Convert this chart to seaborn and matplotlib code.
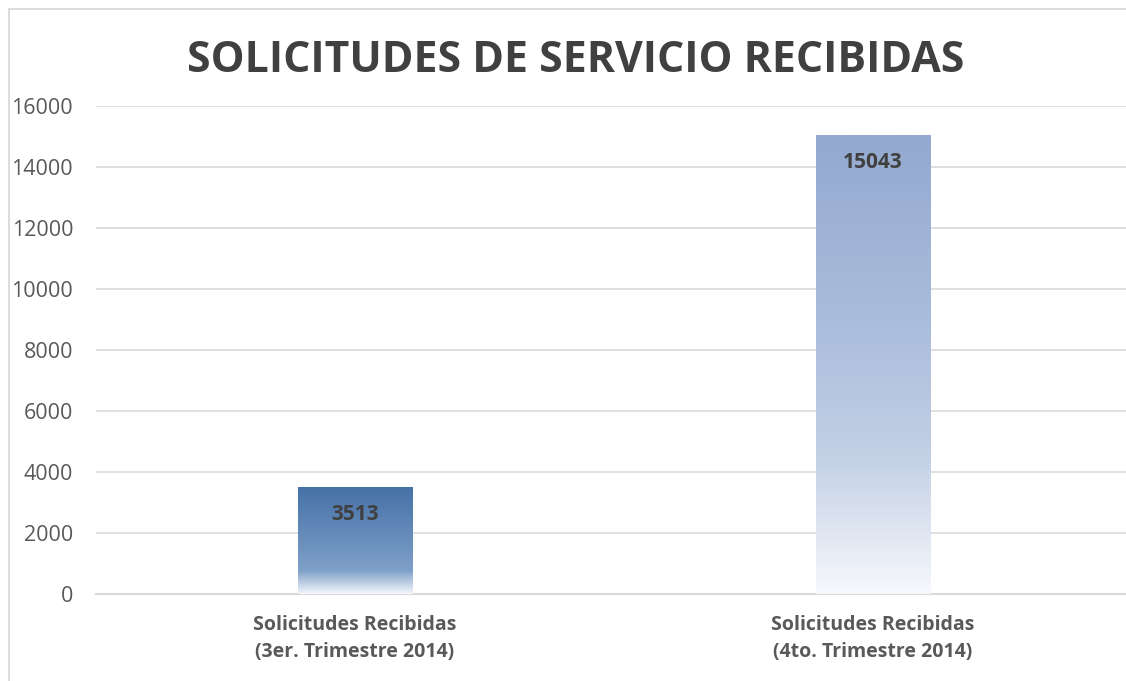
import numpy as np
import pandas as pd
import matplotlib
matplotlib.use("Agg")
import matplotlib.pyplot as plt
import seaborn as sns
from matplotlib.colors import LinearSegmentedColormap
from matplotlib.lines import Line2D

categorias = ["Solicitudes Recibidas\n(3er. Trimestre 2014)",
              "Solicitudes Recibidas\n(4to. Trimestre 2014)"]
valores = [3513, 15043]
titulo = "SOLICITUDES DE SERVICIO RECIBIDAS"
yticks = [0, 2000, 4000, 6000, 8000, 10000, 12000, 14000, 16000]

df = pd.DataFrame({"cat": categorias, "val": valores})

sns.set_style("white")
plt.rcParams['font.family'] = ['Open Sans', 'DejaVu Sans']

fig = plt.figure(figsize=(11.26, 6.81), dpi=100)
W, H = 1126, 681
ax = fig.add_axes([96 / W, (H - 594) / H, (1132 - 96) / W, (594 - 106) / H])

sns.barplot(data=df, x="cat", y="val", ax=ax, width=0.222, color="#ffffff",
            linewidth=0, zorder=2)

# degradados tipo Excel
grad1 = LinearSegmentedColormap.from_list(
    "g1", [(0, "#f4f7fb"), (0.22, "#7e9fc8"), (1, "#4571a7")])
grad2 = LinearSegmentedColormap.from_list(
    "g2", [(0, "#f6f8fc"), (0.3, "#c3d0e5"), (0.6, "#a9bcdc"), (1, "#93a9cf")])
for bar, cm in zip(ax.patches, [grad1, grad2]):
    x0, y0 = bar.get_x(), bar.get_y()
    w, h = bar.get_width(), bar.get_height()
    img = np.linspace(0, 1, 256).reshape(-1, 1)
    im = ax.imshow(img, cmap=cm, aspect="auto", origin="lower",
                   extent=[x0, x0 + w, y0, y0 + h], zorder=3)
    im.set_clip_path(bar)

for i, v in enumerate(valores):
    ax.annotate(str(v), (i, v), xytext=(0, -20), textcoords="offset points",
                ha="center", va="center", fontsize=15, fontweight="bold",
                color="#404040", zorder=5)

ax.set_xlim(-0.5, 1.5)
ax.set_ylim(0, 16000)
ax.set_yticks(yticks)
ax.set_yticklabels([str(t) for t in yticks], fontsize=15.5, color="#595959")
ax.tick_params(axis="y", length=0, pad=16.5)
ax.tick_params(axis="x", length=0, pad=15)
for lab in ax.get_xticklabels():
    lab.set_fontsize(14)
    lab.set_fontweight("bold")
    lab.set_color("#595959")
    lab.set_linespacing(1.5)
ax.set_xlabel("")
ax.set_ylabel("")
ax.grid(axis="y", color="#d9d9d9", linewidth=1.2, zorder=0)
ax.set_axisbelow(True)
for s in ["top", "right", "left"]:
    ax.spines[s].set_visible(False)
ax.spines["bottom"].set_color("#d9d9d9")
ax.spines["bottom"].set_linewidth(1.5)

fig.text(576 / W, 1 - 60 / H, titulo, ha="center", va="center",
         fontsize=30.8, fontweight="bold", color="#404040")

# borde del área del gráfico (recortado a la derecha y abajo)
fig.lines.append(Line2D([8.5 / W, 8.5 / W], [0, 1 - 8.5 / H],
                        transform=fig.transFigure, color="#d9d9d9", linewidth=1.3))
fig.lines.append(Line2D([8.5 / W, 1], [1 - 8.5 / H, 1 - 8.5 / H],
                        transform=fig.transFigure, color="#d9d9d9", linewidth=1.3))

fig.savefig("out.png", dpi=100, facecolor="white")
